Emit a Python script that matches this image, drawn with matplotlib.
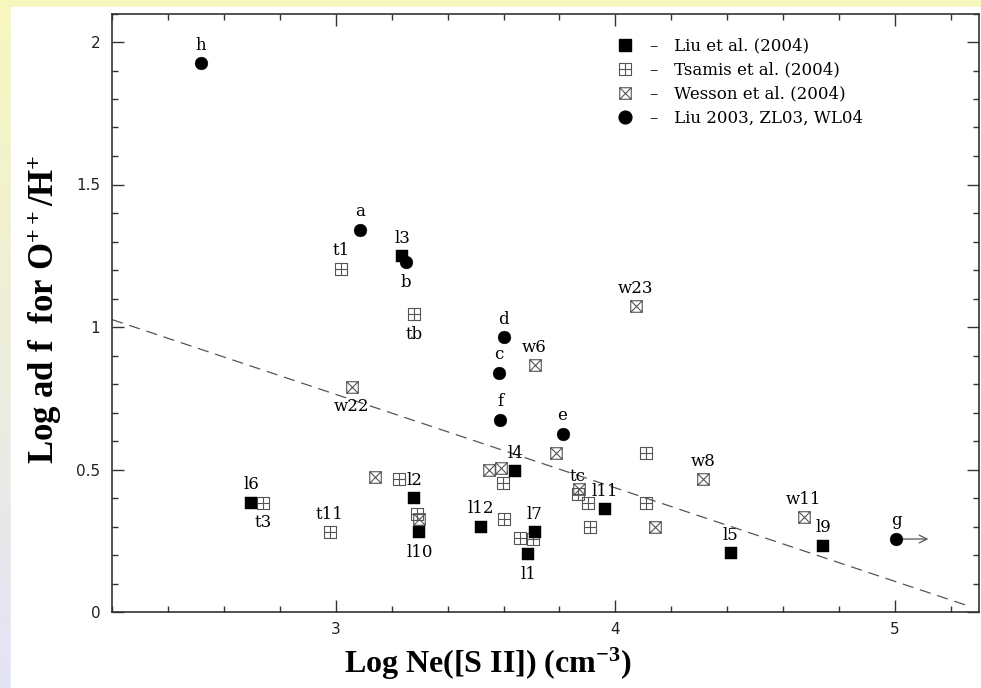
import numpy as np
import matplotlib
matplotlib.use('Agg')
import matplotlib.pyplot as plt
from matplotlib.path import Path
from matplotlib.lines import Line2D

# Liu et al. (2004) - filled squares
liu04_x = [2.698, 3.238, 3.280, 3.299, 3.520, 3.642, 3.712, 3.689, 3.961, 4.412, 4.743]
liu04_y = [0.384, 1.248, 0.399, 0.281, 0.300, 0.493, 0.279, 0.203, 0.361, 0.206, 0.232]
liu04_lab = ['l6', 'l3', 'l2', 'l10', 'l12', 'l4', 'l7', 'l1', 'l11', 'l5', 'l9']
liu04_pos = ['up', 'up', 'up', 'down', 'up', 'up', 'up', 'down', 'up', 'up', 'up']

# Tsamis et al. (2004) - boxed plus
tsa_x = [2.739, 2.978, 3.018, 3.227, 3.281, 3.289, 3.597, 3.600, 3.659, 3.704,
         3.866, 3.901, 3.910, 4.110, 4.111]
tsa_y = [0.384, 0.279, 1.204, 0.465, 1.044, 0.343, 0.451, 0.326, 0.258, 0.256,
         0.413, 0.382, 0.300, 0.558, 0.382]
tsa_lab = ['t3', 't11', 't1', '', 'tb', '', '', '', '', '', 'tc', '', '', '', '']
tsa_pos = ['down', 'up', 'up', '', 'down', '', '', '', '', '', 'up', '', '', '', '']

# Wesson et al. (2004) - boxed cross
wes_x = [3.058, 3.140, 3.297, 3.548, 3.591, 3.711, 3.789, 3.870, 4.072, 4.141, 4.313, 4.673]
wes_y = [0.791, 0.472, 0.325, 0.497, 0.505, 0.865, 0.559, 0.433, 1.073, 0.300, 0.466, 0.332]
wes_lab = ['w22', '', '', '', '', 'w6', '', '', 'w23', '', 'w8', 'w11']
wes_pos = ['down', '', '', '', '', 'up', '', '', 'up', '', 'up', 'up']

# Liu 2003, ZL03, WL04 - filled circles
old_x = [2.519, 3.086, 3.250, 3.582, 3.600, 3.589, 3.811, 5.004]
old_y = [1.925, 1.341, 1.228, 0.840, 0.964, 0.674, 0.626, 0.256]
old_lab = ['h', 'a', 'b', 'c', 'd', 'f', 'e', 'g']
old_pos = ['up', 'up', 'down', 'up', 'up', 'up', 'up', 'up']

# dashed fit line end points
fit_x = [2.2, 5.26]
fit_y = [1.026, 0.022]

legend_labels = ['\u2013   Liu et al. (2004)', '\u2013   Tsamis et al. (2004)',
                 '\u2013   Wesson et al. (2004)', '\u2013   Liu 2003, ZL03, WL04']

box_plus = Path([(-1, -1), (1, -1), (1, 1), (-1, 1), (-1, -1), (0, -1), (0, 1), (-1, 0), (1, 0)],
                [Path.MOVETO, Path.LINETO, Path.LINETO, Path.LINETO, Path.CLOSEPOLY,
                 Path.MOVETO, Path.LINETO, Path.MOVETO, Path.LINETO])
box_cross = Path([(-1, -1), (1, -1), (1, 1), (-1, 1), (-1, -1), (-1, -1), (1, 1), (-1, 1), (1, -1)],
                 [Path.MOVETO, Path.LINETO, Path.LINETO, Path.LINETO, Path.CLOSEPOLY,
                  Path.MOVETO, Path.LINETO, Path.MOVETO, Path.LINETO])

plt.rcParams['mathtext.fontset'] = 'custom'
plt.rcParams['mathtext.rm'] = 'Liberation Serif:bold'
plt.rcParams['mathtext.it'] = 'Liberation Serif:bold'
plt.rcParams['mathtext.bf'] = 'Liberation Serif:bold'

fig = plt.figure(figsize=(9.81, 6.88), dpi=100)

# background: yellow -> lavender strip, white panel
bg = fig.add_axes([0, 0, 1, 1], zorder=-10)
grad = np.linspace(0, 1, 256)[:, None]
top_c = np.array([247, 247, 190]) / 255
bot_c = np.array([228, 228, 248]) / 255
img = top_c[None, None, :] * (1 - grad[:, :, None]) + bot_c[None, None, :] * grad[:, :, None]
bg.imshow(img, aspect='auto', extent=[0, 1, 0, 1], origin='upper')
bg.add_patch(plt.Rectangle((11 / 981, 0), 1, 1 - 7 / 688, color='white'))
bg.set_xlim(0, 1)
bg.set_ylim(0, 1)
bg.axis('off')

ax = fig.add_axes([112 / 981, 76 / 688, 867 / 981, 598.5 / 688])
ax.set_facecolor('none')
ax.set_xlim(2.2, 5.3)
ax.set_ylim(0, 2.1)

grey = '#555555'
ax.plot(fit_x, fit_y, color=grey, lw=0.9, dashes=(9, 5.5), zorder=1)

ax.plot(tsa_x, tsa_y, ls='none', marker=box_plus, ms=8.3, mfc='none', mec=grey, mew=0.8, zorder=2)
ax.plot(wes_x, wes_y, ls='none', marker=box_cross, ms=8.3, mfc='none', mec=grey, mew=0.8, zorder=2)
ax.plot(liu04_x, liu04_y, ls='none', marker='s', ms=8.3, mfc='black', mec='black', mew=0.3, zorder=3)
ax.plot(old_x, old_y, ls='none', marker='o', ms=9.2, mfc='black', mec='black', mew=0.3, zorder=4)

# lower limit arrow on g
ax.annotate('', xy=(old_x[-1] + 0.115, old_y[-1]), xytext=(old_x[-1], old_y[-1]),
            arrowprops=dict(arrowstyle='->', color=grey, lw=0.9, shrinkA=0, shrinkB=0,
                            mutation_scale=14), zorder=3)

lab_font = dict(family='DejaVu Serif', size=12)
for xs, ys, labs, poss in [(liu04_x, liu04_y, liu04_lab, liu04_pos),
                            (tsa_x, tsa_y, tsa_lab, tsa_pos),
                            (wes_x, wes_y, wes_lab, wes_pos),
                            (old_x, old_y, old_lab, old_pos)]:
    for x, y, s, p in zip(xs, ys, labs, poss):
        if not s:
            continue
        dy = 13 if p == 'up' else -14.5
        ax.annotate(s, (x, y), xytext=(0, dy), textcoords='offset points',
                    ha='center', va='center', **lab_font)

ax.set_xticks([3, 4, 5])
ax.set_xticks(np.arange(2.2, 5.31, 0.2), minor=True)
ax.set_yticks([0, 0.5, 1, 1.5, 2])
ax.set_yticklabels(['0', '0.5', '1', '1.5', '2'])
ax.set_yticks(np.arange(0, 2.11, 0.1), minor=True)
ax.tick_params(which='both', direction='in', top=True, right=True, width=1.0, color='#333333',
               labelsize=11, labelcolor='#222222')
ax.tick_params(which='major', length=8.6)
ax.tick_params(which='minor', length=4.5)
ax.tick_params(axis='y', pad=8.5)
ax.tick_params(axis='x', pad=7)
for sp in ax.spines.values():
    sp.set_linewidth(1.2)
    sp.set_color('#333333')

handles = [
    Line2D([], [], ls='none', marker='s', ms=8.3, mfc='black', mec='black'),
    Line2D([], [], ls='none', marker=box_plus, ms=8.3, mfc='none', mec=grey, mew=0.8),
    Line2D([], [], ls='none', marker=box_cross, ms=8.3, mfc='none', mec=grey, mew=0.8),
    Line2D([], [], ls='none', marker='o', ms=9.2, mfc='black', mec='black'),
]
ax.legend(handles, legend_labels, loc='upper left', bbox_to_anchor=(0.565, 0.985),
          frameon=False, handlelength=1.0, handletextpad=1.0, labelspacing=0.42,
          prop=dict(family='DejaVu Serif', size=12))

fig.text(45 / 981, 1 - 309 / 688, 'Log ad f  for O$^{++}$/H$^{+}$', rotation=90,
         ha='center', va='center', family='Liberation Serif', weight='bold', size=25)
fig.text(488 / 981, 1 - 664 / 688, 'Log Ne([S II]) (cm$^{-3}$)',
         ha='center', va='center', family='Liberation Serif', weight='bold', size=23)

fig.savefig('out.png', dpi=100)
